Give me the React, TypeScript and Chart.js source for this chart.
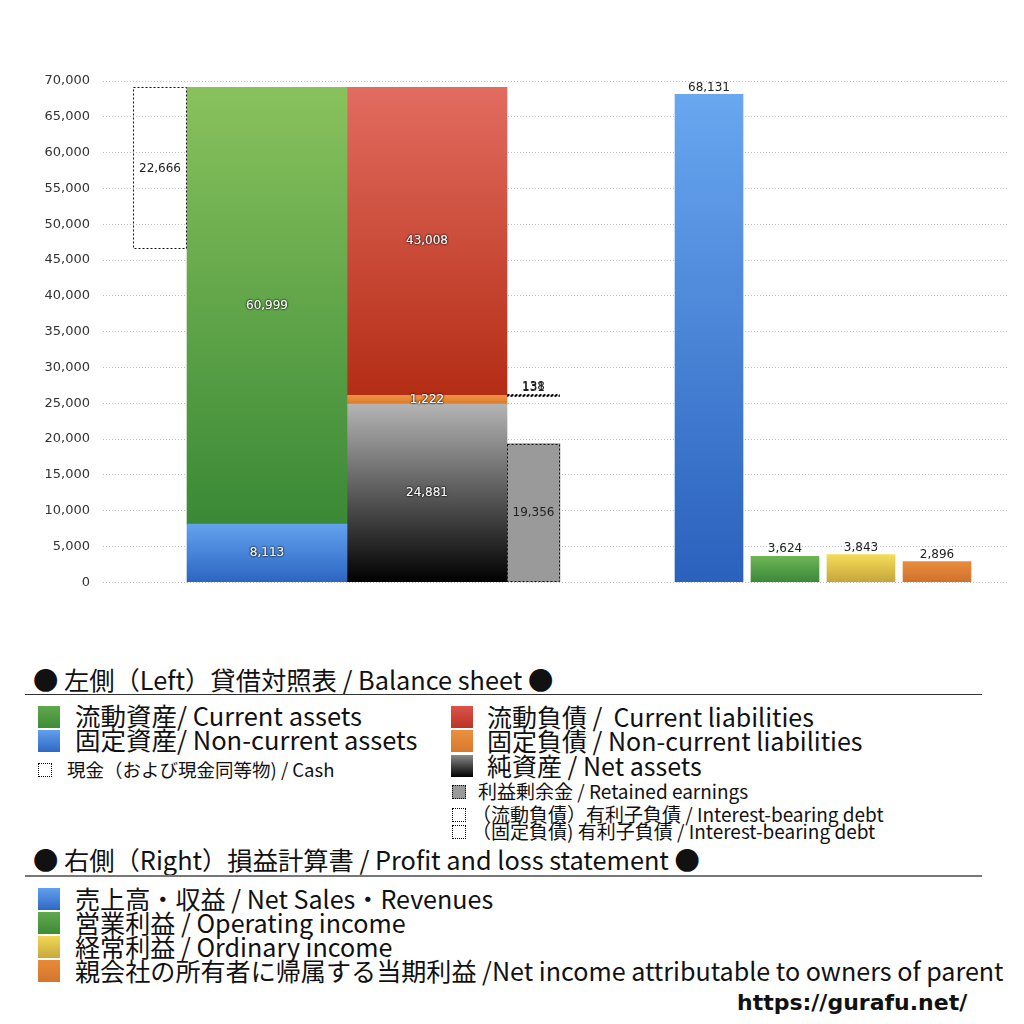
import { useEffect, useRef } from 'react';
import { Chart, registerables } from 'chart.js';

Chart.register(...registerables);

// left side: balance sheet (values listed bottom to top)
const assetNames = ['固定資産', '流動資産'];
const assetValues = [8113, 60999];
const cashValue = 22666;
const claimNames = ['純資産', '固定負債', '流動負債'];
const claimValues = [24881, 1222, 43008];
const retainedEarnings = 19356;
const debtNames = ['固定負債 有利子負債', '流動負債 有利子負債'];
const debtValues = [131, 138];

// right side: profit and loss
const plNames = ['売上高・収益', '営業利益', '経常利益', '当期利益'];
const plValues = [68131, 3624, 3843, 2896];

const yMax = 70000;
const yStep = 5000;

// column layout inside the plot area (px): gap before each column, column width
const plotWidth = 905;
const columnGaps = [30, 0, 0, 0, 115, 8, 8, 8];
const columnWidths = [54, 160, 160, 53, 68, 68, 68, 68];
const columnCenters = columnWidths.map((w, i) => {
  let left = 0;
  for (let k = 0; k < i; k++) left += columnGaps[k] + columnWidths[k];
  return left + columnGaps[i] + w / 2;
});

const FONT = "'Noto Sans CJK JP', 'Noto Sans', sans-serif";
const NUM_FONT = "'DejaVu Sans', Arial, sans-serif";

const grad = (top: string, bottom: string) => (ctx: any) => {
  const chart = ctx.chart;
  const y = chart.scales && chart.scales.y;
  const raw = ctx.raw;
  if (!y || !raw || !chart.chartArea) return bottom;
  const y0 = y.getPixelForValue(raw.y[1]);
  const y1 = y.getPixelForValue(raw.y[0]);
  if (!isFinite(y0) || !isFinite(y1) || y0 === y1) return bottom;
  const g = chart.ctx.createLinearGradient(0, y0, 0, y1);
  g.addColorStop(0, top);
  g.addColorStop(1, bottom);
  return g;
};

const fmt = (v: number) => v.toLocaleString('en-US');

// draws dotted outlines and value labels on top of the bars
const barLabels = {
  id: 'barLabels',
  afterDatasetsDraw(chart: any) {
    const { ctx } = chart;
    chart.data.datasets.forEach((ds: any, i: number) => {
      const meta = chart.getDatasetMeta(i);
      meta.data.forEach((bar: any, j: number) => {
        const { x, y, base, width } = bar.getProps(['x', 'y', 'base', 'width'], true);
        const raw = ds.data[j];
        const value = raw.y[1] - raw.y[0];
        ctx.save();
        if (ds.dotted) {
          ctx.setLineDash([2, 2]);
          ctx.strokeStyle = '#111';
          ctx.lineWidth = 1;
          ctx.strokeRect(
            Math.round(x - width / 2) + 0.5,
            Math.round(y) + 0.5,
            Math.round(width) - 1,
            Math.max(Math.round(base - y) - 1, 1),
          );
        }
        ctx.setLineDash([]);
        ctx.font = `12px ${NUM_FONT}`;
        ctx.textAlign = 'center';
        if (ds.labelMode === 'above') {
          ctx.textBaseline = 'bottom';
          ctx.fillStyle = '#222';
          ctx.fillText(fmt(value), x, y - 1);
        } else if (ds.labelMode === 'light') {
          ctx.textBaseline = 'middle';
          ctx.shadowColor = 'rgba(0,0,0,0.9)';
          ctx.shadowBlur = 2;
          ctx.fillStyle = '#f4f4f4';
          ctx.fillText(fmt(value), x, (y + base) / 2);
          ctx.fillText(fmt(value), x, (y + base) / 2);
        } else {
          ctx.textBaseline = 'middle';
          ctx.fillStyle = '#222';
          ctx.fillText(fmt(value), x, (y + base) / 2);
        }
        ctx.restore();
      });
    });
  },
};

function buildDatasets() {
  const assetTotal = assetValues.reduce((a, b) => a + b, 0);
  const sets: any[] = [];
  const add = (label: string, col: number, from: number, to: number, color: any, extra: any = {}) => {
    sets.push({
      label,
      data: [{ x: columnCenters[col], y: [from, to] }],
      backgroundColor: color,
      barThickness: columnWidths[col],
      grouped: false,
      borderWidth: 0,
      labelMode: 'light',
      ...extra,
    });
  };

  add('現金', 0, assetTotal - cashValue, assetTotal, 'rgba(255,255,255,0)', { dotted: true, labelMode: 'dark' });

  const assetColors = [grad('#63a2ee', '#2c65c2'), grad('#89c25d', '#3a8936')];
  let acc = 0;
  assetValues.forEach((v, i) => {
    add(assetNames[i], 1, acc, acc + v, assetColors[i]);
    acc += v;
  });

  const claimColors = [grad('#b4b4b4', '#000000'), grad('#ec9342', '#dc7a2a'), grad('#e26c60', '#b42d15')];
  acc = 0;
  const claimStarts: number[] = [];
  claimValues.forEach((v, i) => {
    claimStarts.push(acc);
    add(claimNames[i], 2, acc, acc + v, claimColors[i]);
    acc += v;
  });

  add('利益剰余金', 3, 0, retainedEarnings, '#9a9a9a', { dotted: true, labelMode: 'dark' });
  // non-current debt sits at the top of non-current liabilities, current debt at the bottom of current liabilities
  const split = claimStarts[2];
  add(debtNames[0], 3, split - debtValues[0], split, 'rgba(255,255,255,0)', { dotted: true, labelMode: 'above' });
  add(debtNames[1], 3, split, split + debtValues[1], 'rgba(255,255,255,0)', { dotted: true, labelMode: 'above' });

  const plColors = [
    grad('#69a7f0', '#2a61bd'),
    grad('#6eb553', '#3a883a'),
    grad('#f4dd58', '#c5a53a'),
    grad('#eb8d3d', '#cf712c'),
  ];
  plValues.forEach((v, i) => add(plNames[i], 4 + i, 0, v, plColors[i], { labelMode: 'above' }));
  return sets;
}

function BalanceChart() {
  const canvasRef = useRef<HTMLCanvasElement | null>(null);

  useEffect(() => {
    if (!canvasRef.current) return;
    const chart = new Chart(canvasRef.current, {
      type: 'bar',
      data: { datasets: buildDatasets() },
      options: {
        animation: false,
        responsive: false,
        layout: { padding: { top: 81, right: 16, bottom: 18, left: 0 } },
        plugins: { legend: { display: false }, tooltip: { enabled: false } },
        scales: {
          x: {
            type: 'linear',
            display: false,
            min: 0,
            max: plotWidth,
            offset: false,
            grid: { display: false, offset: false },
          },
          y: {
            min: 0,
            max: yMax,
            afterFit: (scale: any) => {
              scale.width = 103;
            },
            ticks: {
              stepSize: yStep,
              padding: 13,
              color: '#333',
              font: { family: NUM_FONT, size: 13 },
              callback: (v: any) => fmt(Number(v)),
            },
            grid: { color: '#bdbdbd', lineWidth: 1, drawTicks: false },
            border: { display: false, dash: [1, 2] },
          },
        },
      },
      plugins: [barLabels],
    } as any);
    return () => chart.destroy();
  }, []);

  return (
    <div style={{ position: 'absolute', left: 0, top: 0, width: 1024, height: 603 }}>
      <canvas ref={canvasRef} width={1024} height={603} style={{ display: 'block' }} />
    </div>
  );
}

function Box({ x, cy, size, h, bg, dotted }: { x: number; cy: number; size: number; h?: number; bg: string; dotted?: boolean }) {
  const height = h ?? size;
  return (
    <div
      style={{
        position: 'absolute',
        left: x,
        top: cy - height / 2,
        width: size,
        height,
        background: bg,
        border: dotted ? '1px dotted #000' : 'none',
        boxSizing: 'border-box',
      }}
    />
  );
}

function Text({ x, cy, size, children, bold, family }: { x: number; cy: number; size: number; children: any; bold?: boolean; family?: string }) {
  return (
    <div
      style={{
        position: 'absolute',
        left: x,
        top: cy - size * 0.65,
        fontSize: size,
        lineHeight: `${size * 1.2}px`,
        fontFamily: family ?? FONT,
        fontWeight: bold ? 700 : 400,
        color: '#111',
        whiteSpace: 'pre',
      }}
    >
      {children}
    </div>
  );
}

function Legend() {
  const lg = (a: string, b: string) => `linear-gradient(${a}, ${b})`;
  const left = 25.5;
  const right = 25;
  const small = 19;
  const pl = 25.1;
  return (
    <>
      <Text x={33} cy={680} size={25.3}>● 左側（Left）貸借対照表 / Balance sheet ●</Text>
      <div style={{ position: 'absolute', left: 25, top: 694, width: 957, height: 1, background: '#333' }} />

      <Box x={38} cy={717} size={22} bg={lg('#5fa84d', '#3e8c38')} />
      <Text x={75} cy={717} size={left}>流動資産/ Current assets</Text>
      <Box x={38} cy={741} size={22} bg={lg('#62a0ec', '#2f68c4')} />
      <Text x={75} cy={741} size={left}>固定資産/ Non-current assets</Text>
      <Box x={38} cy={770} size={14} bg="#fff" dotted />
      <Text x={67} cy={770} size={18.5}>現金（および現金同等物) / Cash</Text>

      <Box x={451} cy={717} size={22} bg={lg('#d9544a', '#bc3424')} />
      <Text x={487} cy={717} size={right}>流動負債 /  Current liabilities</Text>
      <Box x={451} cy={741} size={22} bg={lg('#ea9040', '#d9782c')} />
      <Text x={487} cy={741} size={right}>固定負債 / Non-current liabilities</Text>
      <Box x={451} cy={766} size={22} bg={lg('#8a8a8a', '#000')} />
      <Text x={487} cy={766} size={right}>純資産 / Net assets</Text>
      <Box x={452} cy={792} size={14} bg="#9a9a9a" dotted />
      <Text x={478} cy={792} size={small}>利益剰余金 / Retained earnings</Text>
      <Box x={452} cy={815} size={14} bg="#fff" dotted />
      <Text x={472} cy={815} size={small}>（流動負債）有利子負債 / Interest-bearing debt</Text>
      <Box x={452} cy={832} size={14} bg="#fff" dotted />
      <Text x={472} cy={832} size={small}>（固定負債) 有利子負債 / Interest-bearing debt</Text>

      <Text x={33} cy={860} size={25.3}>● 右側（Right）損益計算書 / Profit and loss statement ●</Text>
      <div style={{ position: 'absolute', left: 25, top: 875, width: 957, height: 2, background: '#777' }} />

      <Box x={38} cy={899} size={22} bg={lg('#62a0ec', '#2f68c4')} />
      <Text x={75} cy={899} size={pl}>売上高・収益 / Net Sales・Revenues</Text>
      <Box x={38} cy={923} size={22} bg={lg('#5fa84d', '#3e8c38')} />
      <Text x={75} cy={923} size={pl}>営業利益 / Operating income</Text>
      <Box x={38} cy={947} size={22} bg={lg('#f0d856', '#c8a83c')} />
      <Text x={75} cy={947} size={pl}>経常利益 / Ordinary income</Text>
      <Box x={38} cy={971} size={22} bg={lg('#e98a3a', '#d4752e')} />
      <Text x={75} cy={971} size={pl}>親会社の所有者に帰属する当期利益 /Net income attributable to owners of parent</Text>

      <Text x={737} cy={1004} size={22} bold family={NUM_FONT}>https://gurafu.net/</Text>
    </>
  );
}

export default function App() {
  return (
    <div style={{ position: 'absolute', left: 0, top: 0, width: 1024, height: 1024, background: '#fff', overflow: 'hidden' }}>
      <BalanceChart />
      <Legend />
    </div>
  );
}
